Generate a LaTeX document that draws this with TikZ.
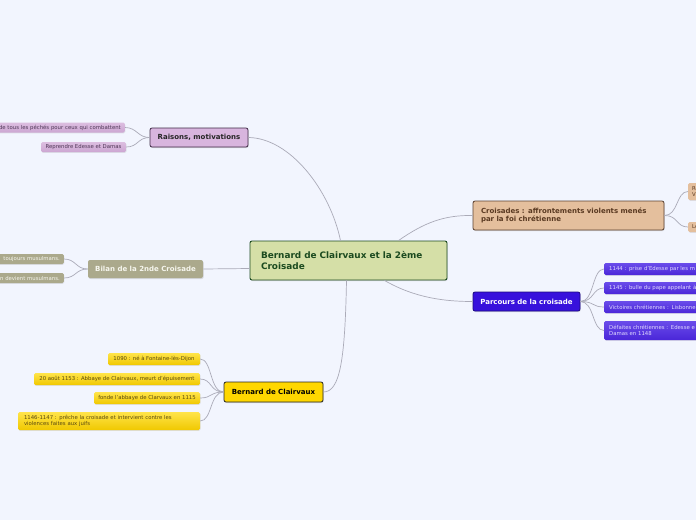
\documentclass[tikz,border=0pt]{standalone}
\usepackage{fontspec}
\setmainfont{DejaVu Sans}
\usetikzlibrary{shadows}
\definecolor{bg}{HTML}{F2F5FE}
\definecolor{linecol}{HTML}{ABABB8}
\definecolor{cenfill}{HTML}{D5DFA7}
\definecolor{cenborder}{HTML}{1C4A20}
\definecolor{centext}{HTML}{1B4A1F}
\definecolor{raifill}{HTML}{D8B5DE}
\definecolor{raiborder}{HTML}{3F2A45}
\definecolor{raichildtop}{HTML}{DCBEE0}
\definecolor{raichildbot}{HTML}{CCA6D2}
\definecolor{raitext}{HTML}{4E3656}
\definecolor{bilfill}{HTML}{ABA98C}
\definecolor{biltext}{HTML}{F6F6EE}
\definecolor{berfill}{HTML}{FFD700}
\definecolor{berchildtop}{HTML}{FFE44A}
\definecolor{berchildbot}{HTML}{F0C800}
\definecolor{bertext}{HTML}{5A4A10}
\definecolor{crofill}{HTML}{E4BF9D}
\definecolor{croborder}{HTML}{5A4030}
\definecolor{crotext}{HTML}{5A3A22}
\definecolor{parfill}{HTML}{3711DC}
\definecolor{parborder}{HTML}{1C0A80}
\definecolor{parchildtop}{HTML}{6A4CEA}
\definecolor{parchildbot}{HTML}{4A26D8}
\definecolor{partext}{HTML}{E2DCFF}
\tikzset{
  conn/.style={draw=linecol, line width=0.7pt},
  central/.style={draw=cenborder, fill=cenfill, line width=0.9pt, rounded corners=2pt,
    font=\fontsize{8.9}{11}\selectfont\bfseries, text=centext, align=left, inner ysep=0pt,
    drop shadow={opacity=0.25, shadow xshift=0.6pt, shadow yshift=-1pt}},
  topic/.style={line width=0.8pt, rounded corners=2pt, inner sep=0pt,
    font=\fontsize{7}{8.6}\selectfont\bfseries,
    drop shadow={opacity=0.25, shadow xshift=0.6pt, shadow yshift=-1pt}},
  leaf/.style={rounded corners=1.5pt, inner ysep=0pt, inner xsep=4pt,
    font=\fontsize{5.35}{6.6}\selectfont,
    drop shadow={opacity=0.18, shadow xshift=0.5pt, shadow yshift=-0.8pt}},
  raileaf/.style={leaf, top color=raichildtop, bottom color=raichildbot, text=raitext},
  billeaf/.style={leaf, fill=bilfill, text=biltext},
  berleaf/.style={leaf, top color=berchildtop, bottom color=berchildbot, text=bertext},
  croleaf/.style={leaf, fill=crofill, text=crotext},
  parleaf/.style={leaf, top color=parchildtop, bottom color=parchildbot, text=partext},
}
\begin{document}
\begin{tikzpicture}[x=1pt,y=-1pt]
\useasboundingbox (0,0) rectangle (696,520);
\fill[bg] (0,0) rectangle (696,520);
\clip (0,0) rectangle (696,520);

% central
\node[central, minimum width=197pt, minimum height=39pt, text width=175pt, inner xsep=11pt]
  (cen) at (348.5,260.5) {Bernard de Clairvaux et la 2ème\\Croisade};

% main topics
\node[topic, draw=raiborder, fill=raifill, text=black!85, minimum width=98pt, minimum height=19pt]
  (rai) at (199,137.5) {Raisons, motivations};
\node[topic, draw=none, fill=bilfill, text=biltext, minimum width=115pt, minimum height=18pt]
  (bil) at (145.5,269) {Bilan de la 2nde Croisade};
\node[topic, draw=black!85, fill=berfill, text=black, minimum width=99pt, minimum height=20pt]
  (ber) at (273.5,392) {Bernard de Clairvaux};
\node[topic, draw=croborder, fill=crofill, text=crotext, minimum width=191pt, minimum height=29pt,
  text width=175pt, inner xsep=8pt, align=left]
  (cro) at (568.5,215.5) {Croisades : affrontements violents menés\\par la foi chrétienne};
\node[topic, draw=parborder, fill=parfill, text=white, minimum width=107pt, minimum height=19pt]
  (par) at (526.5,301.5) {Parcours de la croisade};

% main connectors
\draw[conn] ([xshift=-8pt]cen.north) .. controls (330,190) and (290,138) .. (rai.east);
\draw[conn] ([yshift=-8pt]cen.west) -- (bil.east);
\draw[conn] ([xshift=-2pt]cen.south) .. controls (345,360) and (340,392) .. (ber.east);
\draw[conn] ([xshift=50pt]cen.north) .. controls (425,222) and (445,215) .. (cro.west);
\draw[conn] ([xshift=36pt]cen.south) .. controls (415,298) and (445,301.5) .. (par.west);

% Raisons leaves
\node[raileaf, anchor=east, minimum height=10pt, text width=140pt, align=right]
  (r1) at (125,127.5) {de tous les péchés pour ceux qui combattent};
\node[raileaf, minimum width=85pt, minimum height=10pt] (r2) at (83.5,147) {Reprendre Edesse et Damas};
\foreach \n in {r1,r2}
  \draw[conn] (rai.west) .. controls +(-12,0) and +(12,0) .. (\n.east);

% Bilan leaves
\node[billeaf, anchor=east, minimum height=10pt, text width=90pt, align=right]
  (b1) at (64,259) {toujours musulmans.};
\node[billeaf, anchor=east, minimum height=10pt, text width=90pt, align=right]
  (b2) at (64,278) {n devient musulmans.};
\foreach \n in {b1,b2}
  \draw[conn] (bil.west) .. controls +(-12,0) and +(12,0) .. (\n.east);

% Bernard leaves
\node[berleaf, minimum width=92pt, minimum height=12pt] (e1) at (154,359) {1090 : né à Fontaine-lès-Dijon};
\node[berleaf, minimum width=166pt, minimum height=12pt] (e2) at (117,379) {20 août 1153 : Abbaye de Clairvaux, meurt d'épuisement};
\node[berleaf, minimum width=106pt, minimum height=12pt] (e3) at (147,398) {fonde l'abbaye de Clarvaux en 1115};
\node[berleaf, minimum width=182pt, minimum height=18pt, text width=170pt, inner xsep=6pt, align=left]
  (e4) at (109,421) {1146-1147 : prêche la croisade et intervient contre les\\violences faites aux juifs};
\foreach \n in {e1,e2,e3,e4}
  \draw[conn] (ber.west) .. controls +(-14,0) and +(12,0) .. (\n.east);

% Croisades leaves
\node[croleaf, anchor=west, minimum height=17pt, text width=40pt, inner xsep=4pt, align=left]
  (c1) at (688,191.5) {Re\\Vi};
\node[croleaf, anchor=west, minimum height=10pt, text width=40pt, inner xsep=4pt, align=left]
  (c2) at (688,227) {Le};
\foreach \n in {c1,c2}
  \draw[conn] (cro.east) .. controls +(14,0) and +(-12,0) .. (\n.west);

% Parcours leaves
\node[parleaf, anchor=west, minimum height=12pt, text width=120pt, inner xsep=5pt, align=left]
  (p1) at (604,269) {1144 : prise d'Edesse par les m};
\node[parleaf, anchor=west, minimum height=12pt, text width=120pt, inner xsep=5pt, align=left]
  (p2) at (604,288) {1145 : bulle du pape appelant à};
\node[parleaf, anchor=west, minimum height=12pt, text width=120pt, inner xsep=5pt, align=left]
  (p3) at (604,307) {Victoires chrétiennes : Lisbonne};
\node[parleaf, anchor=west, minimum height=19pt, text width=120pt, inner xsep=5pt, align=left]
  (p4) at (604,330.5) {Défaites chrétiennes : Edesse e\\Damas en 1148};
\foreach \n in {p1,p2,p3,p4}
  \draw[conn] (par.east) .. controls +(14,0) and +(-12,0) .. (\n.west);
\end{tikzpicture}
\end{document}
